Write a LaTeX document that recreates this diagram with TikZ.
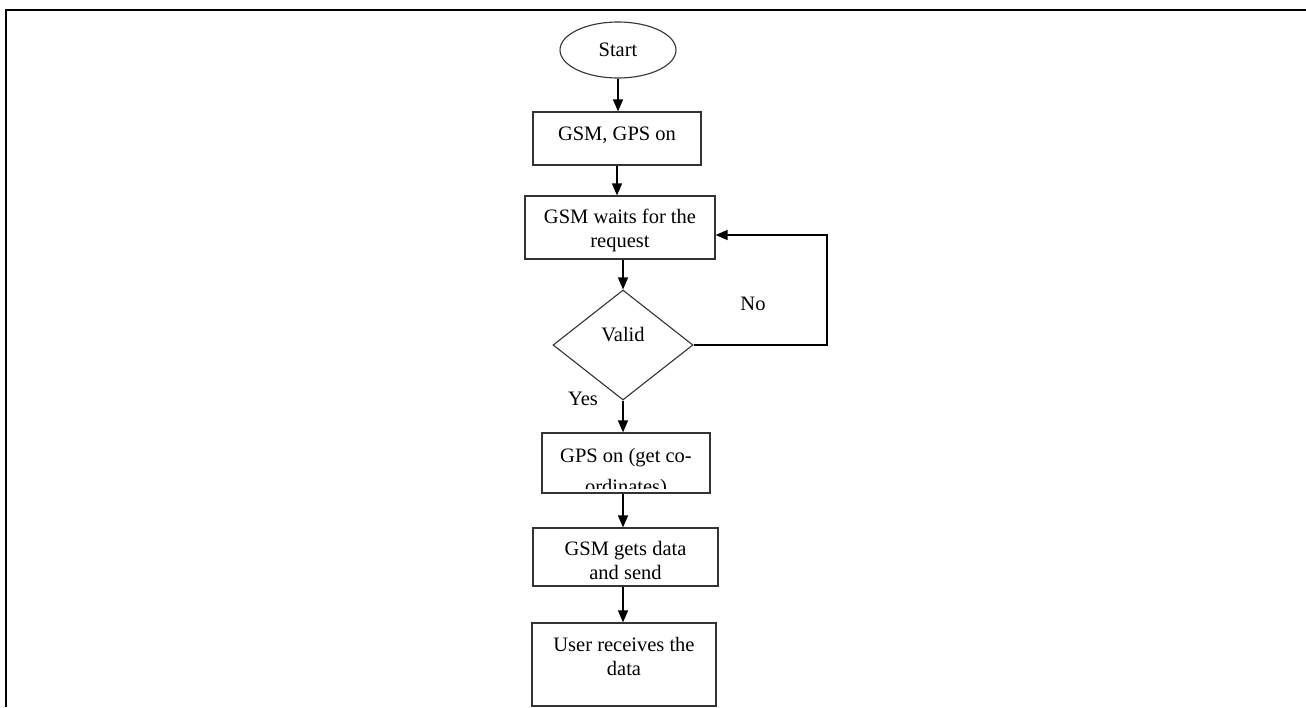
\documentclass[tikz,border=0pt]{standalone}
\usepackage{fontspec}
\setmainfont{Liberation Serif}
\usetikzlibrary{shapes.geometric,arrows.meta}
\begin{document}
\begin{tikzpicture}[x=1pt,y=-1pt,
  box/.style={draw=black!80, line width=1.2pt, rectangle, inner sep=0pt},
  txt/.style={font=\fontsize{20.5}{24}\selectfont, align=center, inner sep=0pt},
  arr/.style={line width=1.4pt, -{Triangle[length=12pt,width=10pt]}},
]
\useasboundingbox (0,0) rectangle (1306,707);
\fill[white] (0,0) rectangle (1306,707);
\draw[line width=2.2pt] (1306,10) -- (6,10) -- (6,707);

\node[draw=black!80, line width=1.1pt, ellipse, minimum width=116pt, minimum height=56pt, inner sep=0pt, txt] (start) at (618,50) {Start};

\node[box, minimum width=168pt, minimum height=53pt,
  label={[txt,yshift=3pt]center:GSM, GPS on}] (b1) at (617,138.5) {};

\node[box, minimum width=190pt, minimum height=63pt,
  label={[txt,yshift=-2.75pt]center:GSM waits for the\\request}] (b2) at (620,227.5) {};

\node[draw=black!80, line width=1.1pt, diamond, minimum width=140pt, minimum height=110pt, inner sep=0pt,
  label={[txt,yshift=10pt]center:Valid}] (d) at (623,345) {};

\node[box, minimum width=168pt, minimum height=60pt,
  path picture={\begin{scope}
    \clip ([yshift=4.5pt]path picture bounding box.south west) rectangle (path picture bounding box.north east);
    \node[txt] at ([yshift=-10.35pt]path picture bounding box.center) {GPS on (get co-\\[7pt]ordinates)};
  \end{scope}}] (b3) at (626,463) {};

\node[box, minimum width=185pt, minimum height=58pt,
  label={[txt,yshift=-3pt]center:GSM gets data\\and send}] (b4) at (625.5,557) {};

\node[box, minimum width=184pt, minimum height=83pt,
  label={[txt,yshift=8.5pt]center:User receives the\\data}] (b5) at (624,664.5) {};

\node[txt] (no) at (753,303.5) {No};
\node[txt] (yes) at (583,398.5) {Yes};

\draw[arr] (start.south) -- (start.south |- b1.north);
\draw[arr] (b1.south) -- (b1.south |- b2.north);
\draw[arr] (d.north |- b2.south) -- (d.north);
\draw[arr] (d.south) -- (d.south |- b3.north);
\draw[arr] (d.south |- b3.south) -- (d.south |- b4.north);
\draw[arr] (d.south |- b4.south) -- (d.south |- b5.north);

\coordinate (loopc) at (827,345);
\draw[arr] (d.east) -- (loopc) |- ([yshift=-7.5pt]b2.east);
\end{tikzpicture}
\end{document}
